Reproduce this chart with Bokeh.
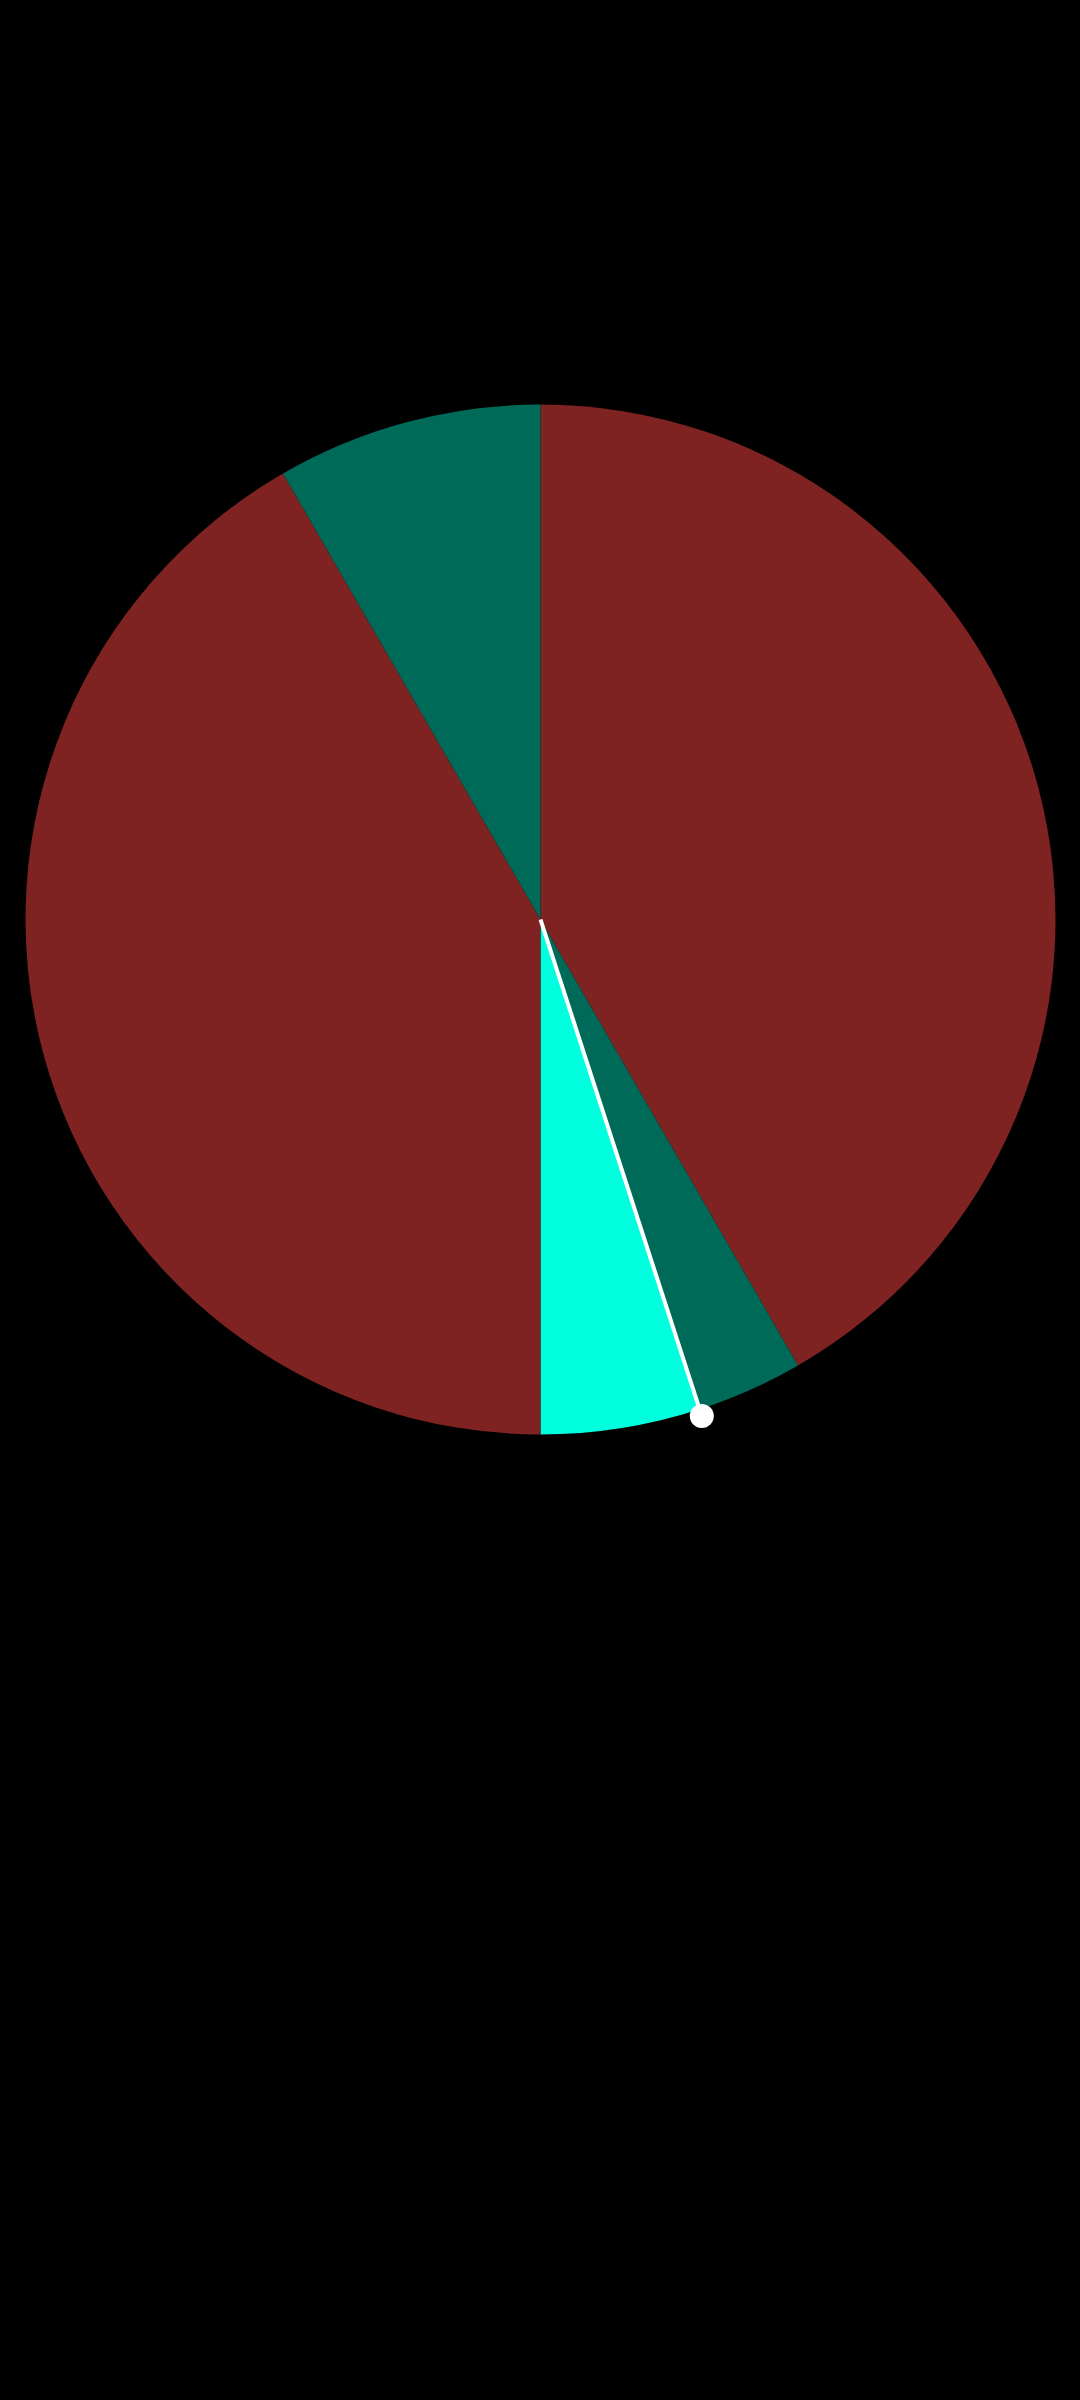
import math
from bokeh.plotting import figure
from bokeh.models import ColumnDataSource, Range1d
from bokeh.embed import file_html
from bokeh.resources import INLINE

# Data (clockwise from 12 o'clock)
categories = ["A", "B", "C", "D", "E"]
values = [25, 2, 3, 25, 5]
colors = ["#7F2322", "#006A59", "#00FFDE", "#7F2322", "#006A59"]
needle_value = 27  # pointer position in same units as values (cumulative)

total = sum(values)
starts, ends = [], []
acc = 0
for v in values:
    a0 = math.pi / 2 - 2 * math.pi * acc / total
    acc += v
    a1 = math.pi / 2 - 2 * math.pi * acc / total
    starts.append(a0)
    ends.append(a1)

R = 515
src = ColumnDataSource(dict(cat=categories, val=values, color=colors,
                            start=starts, end=ends))

p = figure(width=1080, height=2400, output_backend="svg", toolbar_location=None,
           x_range=Range1d(-540, 540), y_range=Range1d(-1481, 919),
           background_fill_color="black", border_fill_color="black",
           min_border=0, outline_line_color=None)
p.axis.visible = False
p.grid.visible = False

p.wedge(x=0, y=0, radius=R, start_angle="start", end_angle="end",
        direction="clock", fill_color="color", line_color=None, source=src)

na = math.pi / 2 - 2 * math.pi * needle_value / total
L = 522
nx, ny = L * math.cos(na), L * math.sin(na)
p.line(x=[0, nx], y=[0, ny], line_color="white", line_width=4)
p.scatter(x=[nx], y=[ny], size=24, fill_color="white", line_color=None)

html = file_html(p, INLINE)
html = html.replace("<head>", "<head><style>html,body{margin:0;padding:0;background:#000;}</style>", 1)
open("out.html", "w").write(html)
